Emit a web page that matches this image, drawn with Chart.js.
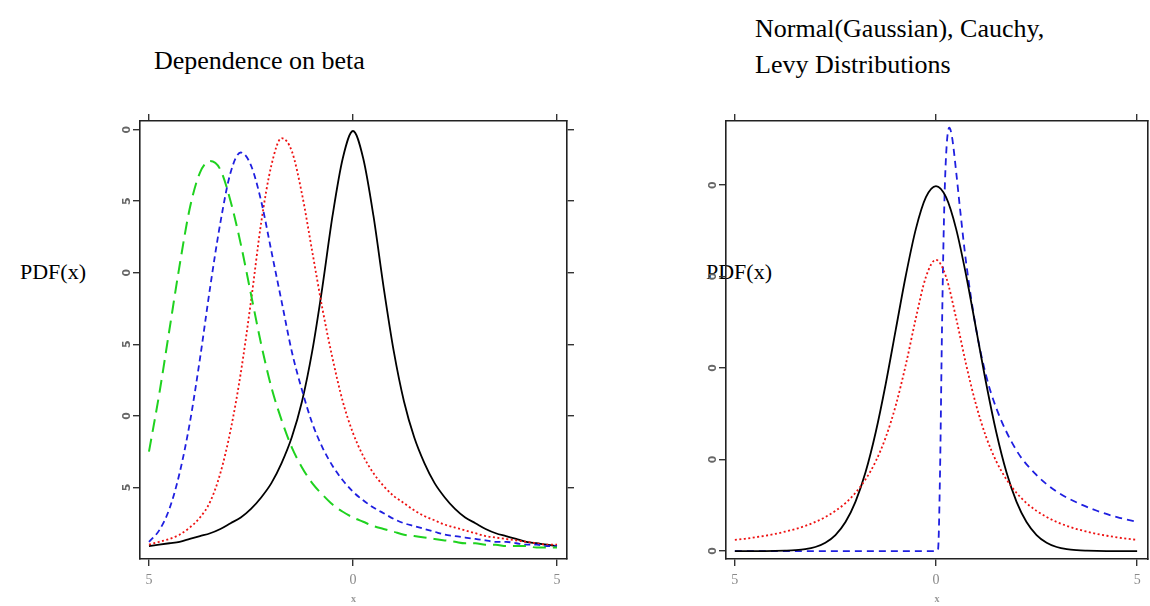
<!DOCTYPE html>
<html lang="en">
<head>
<meta charset="UTF-8">
<title>Stable distributions</title>
<script src="https://cdn.jsdelivr.net/npm/chart.js"></script>
<style>
  body { margin: 0; width: 1150px; height: 606px; background: #fff; position: relative; overflow: hidden;
         font-family: "Liberation Serif", "Times New Roman", serif; }
  .lbl { position: absolute; color: #000; white-space: nowrap; font-size: 26px; line-height: 1; }
  canvas { position: absolute; }
</style>
</head>
<body>
<div class="lbl" style="left:154px; top:48px;">Dependence on beta</div>
<div class="lbl" style="left:755px; top:16px;">Normal(Gaussian), Cauchy,</div>
<div class="lbl" style="left:755px; top:52px;">Levy Distributions</div>
<div class="lbl" style="left:20px; top:261px; font-size:22px;">PDF(x)</div>
<div class="lbl" style="left:706px; top:261px; font-size:22px;">PDF(x)</div>

<canvas id="leftChart" width="500" height="506" style="left:100px; top:100px;"></canvas>
<canvas id="rightChart" width="470" height="506" style="left:680px; top:100px;"></canvas>

<script>
// ---- left panel: dependence on beta ----
const betaX = [-5, -4.75, -4.5, -4.25, -4, -3.75, -3.5, -3.25, -3, -2.75, -2.5, -2.25, -2, -1.75, -1.5, -1.25, -1, -0.75, -0.5, -0.25,
  0, 0.25, 0.5, 0.75, 1, 1.25, 1.5, 1.75, 2, 2.25, 2.5, 2.75, 3, 3.25, 3.5, 3.75, 4, 4.25, 4.5, 4.75, 5];
const betaBlack = [0.009, 0.010, 0.011, 0.012, 0.014, 0.016, 0.018, 0.021, 0.025, 0.029, 0.035, 0.043, 0.053, 0.067, 0.085, 0.110, 0.145, 0.190, 0.240, 0.280,
  0.299, 0.280, 0.240, 0.190, 0.145, 0.110, 0.085, 0.067, 0.053, 0.043, 0.035, 0.029, 0.025, 0.021, 0.018, 0.016, 0.014, 0.012, 0.011, 0.010, 0.009];
const betaRed = [0.010, 0.012, 0.014, 0.017, 0.022, 0.029, 0.040, 0.060, 0.090, 0.130, 0.180, 0.235, 0.275, 0.294, 0.285, 0.255, 0.215, 0.175, 0.140, 0.110,
  0.088, 0.072, 0.060, 0.051, 0.044, 0.039, 0.034, 0.030, 0.027, 0.024, 0.022, 0.020, 0.018, 0.016, 0.015, 0.014, 0.013, 0.012, 0.011, 0.010, 0.010];
const betaBlue = [0.012, 0.020, 0.035, 0.060, 0.095, 0.140, 0.190, 0.235, 0.270, 0.284, 0.275, 0.250, 0.215, 0.180, 0.145, 0.118, 0.095, 0.078, 0.065, 0.055,
  0.047, 0.041, 0.036, 0.032, 0.028, 0.025, 0.023, 0.021, 0.019, 0.017, 0.016, 0.015, 0.014, 0.013, 0.012, 0.012, 0.011, 0.010, 0.010, 0.009, 0.009];
const betaGreen = [0.075, 0.115, 0.160, 0.205, 0.245, 0.270, 0.278, 0.272, 0.250, 0.220, 0.185, 0.150, 0.120, 0.097, 0.078, 0.064, 0.053, 0.045, 0.038, 0.033,
  0.029, 0.026, 0.023, 0.021, 0.019, 0.017, 0.016, 0.015, 0.014, 0.013, 0.012, 0.011, 0.011, 0.010, 0.010, 0.009, 0.009, 0.009, 0.008, 0.008, 0.008];
const betaYTicks = [0.05, 0.10, 0.15, 0.20, 0.25, 0.30];
const betaYLabels = ['5', '0', '5', '0', '5', '0'];

// ---- right panel: normal, cauchy, levy ----
const distX = [-5, -4.75, -4.5, -4.25, -4, -3.75, -3.5, -3.25, -3, -2.75, -2.5, -2.25, -2, -1.75, -1.5, -1.25, -1, -0.75, -0.5, -0.25,
  0, 0.25, 0.5, 0.75, 1, 1.25, 1.5, 1.75, 2, 2.25, 2.5, 2.75, 3, 3.25, 3.5, 3.75, 4, 4.25, 4.5, 4.75, 5];
const normalY = [0, 0, 0, 0, 0.0001, 0.0004, 0.0009, 0.0020, 0.0044, 0.0091, 0.0175, 0.0317, 0.0540, 0.0863, 0.1295, 0.1826, 0.2420, 0.3011, 0.3521, 0.3867,
  0.3989, 0.3867, 0.3521, 0.3011, 0.2420, 0.1826, 0.1295, 0.0863, 0.0540, 0.0317, 0.0175, 0.0091, 0.0044, 0.0020, 0.0009, 0.0004, 0.0001, 0, 0, 0, 0];
const cauchyY = [0.0122, 0.0134, 0.0150, 0.0167, 0.0187, 0.0212, 0.0240, 0.0275, 0.0318, 0.0372, 0.0439, 0.0524, 0.0637, 0.0784, 0.0979, 0.1242, 0.1592, 0.2037, 0.2546, 0.2996,
  0.3183, 0.2996, 0.2546, 0.2037, 0.1592, 0.1242, 0.0979, 0.0784, 0.0637, 0.0524, 0.0439, 0.0372, 0.0318, 0.0275, 0.0240, 0.0212, 0.0187, 0.0167, 0.0150, 0.0134, 0.0122];
const levyX = [-5, 0, 0.05, 0.1, 0.15, 0.2, 0.25, 0.33, 0.4, 0.5, 0.6, 0.75, 1, 1.25, 1.5, 2, 2.5, 3, 3.5, 4, 4.5, 5];
const levyY = [0, 0, 0.0016, 0.085, 0.245, 0.366, 0.432, 0.4626, 0.452, 0.415, 0.373, 0.315, 0.242, 0.191, 0.156, 0.110, 0.083, 0.065, 0.053, 0.044, 0.037, 0.032];
const distYTicks = [0, 0.1, 0.2, 0.3, 0.4];
const distYLabels = ['0', '0', '0', '0', '0'];

const xTicks = [-5, 0, 5];
const xTickLabels = ['5', '0', '5'];

function pts(xs, ys) { return xs.map((x, i) => ({ x: x, y: ys[i] })); }

function line(data, color, dash, width) {
  return { data: data, borderColor: color, borderDash: dash, borderWidth: width,
           pointRadius: 0, fill: false, cubicInterpolationMode: 'monotone' };
}

function frameScales(o) {
  const grid = { drawOnChartArea: false, drawTicks: true, tickLength: 7, color: '#333', lineWidth: 1.4 };
  const border = { display: true, color: '#222', width: 1.6 };
  const setX = s => { s.ticks = xTicks.map(v => ({ value: v })); };
  const setY = s => { s.ticks = o.yTicks.map(v => ({ value: v })); };
  return {
    x: {
      type: 'linear', position: 'bottom', min: o.xMin, max: o.xMax,
      afterBuildTicks: setX, afterFit: s => { s.height = o.bottom; },
      border: border, grid: grid,
      ticks: { callback: (v, i) => xTickLabels[i], color: '#8a8a8a', padding: 6, maxRotation: 0, autoSkip: false,
               font: { family: 'Liberation Serif', size: 14 } },
      title: { display: true, text: 'x', color: '#999', font: { family: 'Liberation Serif', size: 10, weight: 'bold' },
               padding: { top: 0, bottom: 1 } }
    },
    x2: {
      type: 'linear', position: 'top', min: o.xMin, max: o.xMax,
      afterBuildTicks: setX, afterFit: s => { s.height = o.top; },
      border: border, grid: grid, ticks: { display: false }
    },
    y: {
      type: 'linear', position: 'left', min: o.yMin, max: o.yMax,
      afterBuildTicks: setY, afterFit: s => { s.width = o.left; },
      border: border, grid: grid,
      ticks: { callback: (v, i) => o.yLabels[i], color: '#666', minRotation: 90, maxRotation: 90, crossAlign: 'center',
               padding: 2, autoSkip: false, font: { family: 'DejaVu Sans', size: 11, weight: 'bold' } }
    },
    y2: {
      type: 'linear', position: 'right', min: o.yMin, max: o.yMax,
      afterBuildTicks: setY, afterFit: s => { s.width = o.right; },
      border: border, grid: o.rightTicks ? grid : { display: false }, ticks: { display: false }
    }
  };
}

const common = {
  responsive: false,
  animation: false,
  layout: { padding: 0 },
  plugins: { legend: { display: false }, tooltip: { enabled: false } }
};

new Chart(document.getElementById('leftChart'), {
  type: 'line',
  data: {
    datasets: [
      line(pts(betaX, betaGreen), '#1fd21f', [13, 7], 2),
      line(pts(betaX, betaBlue), '#1f1fe0', [6, 4], 1.8),
      line(pts(betaX, betaRed), '#ee1111', [2, 2.5], 1.8),
      line(pts(betaX, betaBlack), '#000', [], 1.8)
    ]
  },
  options: Object.assign({}, common, {
    scales: frameScales({ xMin: -5.22, xMax: 5.245, yMin: 0, yMax: 0.306, yTicks: betaYTicks, yLabels: betaYLabels,
                          left: 40, right: 33, top: 21, bottom: 47, rightTicks: true })
  })
});

new Chart(document.getElementById('rightChart'), {
  type: 'line',
  data: {
    datasets: [
      line(pts(distX, cauchyY), '#ee1111', [2, 2.5], 1.8),
      line(pts(distX, normalY), '#000', [], 1.8),
      line(pts(levyX, levyY), '#1f1fe0', [7, 5], 1.8)
    ]
  },
  options: Object.assign({}, common, {
    scales: frameScales({ xMin: -5.22, xMax: 5.27, yMin: -0.0087, yMax: 0.47, yTicks: distYTicks, yLabels: distYLabels,
                          left: 46, right: 2, top: 21, bottom: 47, rightTicks: false })
  })
});
</script>
</body>
</html>
